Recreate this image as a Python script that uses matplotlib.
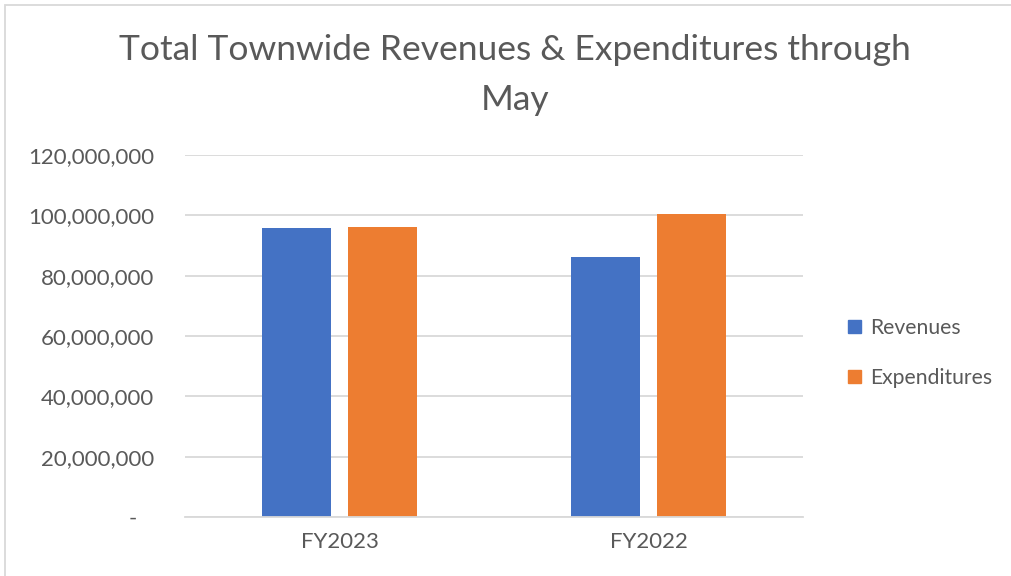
import matplotlib.pyplot as plt
import matplotlib.ticker as mticker
from matplotlib.patches import Rectangle, Patch
import numpy as np

categories = ['FY2023', 'FY2022']
revenues = [95.7e6, 86.2e6]
expenditures = [96.0e6, 100.3e6]
series_names = ['Revenues', 'Expenditures']

blue = '#4472c4'
orange = '#ed7d31'
text_col = '#595959'
grid_col = '#d9d9d9'

plt.rcParams['font.family'] = ['Lato', 'DejaVu Sans']

fig = plt.figure(figsize=(10.11, 5.76), dpi=100)
W, H = 1011, 576
ax = fig.add_axes([185 / W, 1 - 517 / H, 618 / W, 362 / H])

x = np.arange(len(categories))
w = 0.223
off = 0.1405
ax.bar(x - off, revenues, w, color=blue)
ax.bar(x + off, expenditures, w, color=orange)

ax.set_xlim(-0.5, 1.5)
ax.set_ylim(0, 120e6)
ax.set_yticks(np.arange(0, 120e6 + 1, 20e6))


def fmt(v, pos):
    if v == 0:
        return '-   '
    return f'{v:,.0f}'


ax.yaxis.set_major_formatter(mticker.FuncFormatter(fmt))
ax.set_xticks(x)
ax.set_xticklabels(categories)
ax.tick_params(axis='both', length=0, labelsize=16, colors=text_col)
ax.tick_params(axis='y', pad=22)
ax.tick_params(axis='x', pad=11)
ax.grid(axis='y', color=grid_col, linewidth=1.3)
ax.set_axisbelow(True)
for s in ['top', 'right', 'left']:
    ax.spines[s].set_visible(False)
ax.spines['bottom'].set_color(grid_col)
ax.spines['bottom'].set_linewidth(1.3)

fig.text(515 / W, 1 - 50 / H, 'Total Townwide Revenues & Expenditures through',
         ha='center', va='center', fontsize=25.5, color=text_col)
fig.text(515 / W, 1 - 100 / H, 'May',
         ha='center', va='center', fontsize=25.5, color=text_col)

handles = [Patch(color=blue), Patch(color=orange)]
fig.legend(handles, series_names, loc='center left',
           bbox_to_anchor=(829 / W, 1 - 353 / H), frameon=False,
           fontsize=15.2, labelcolor=text_col, handlelength=0.6,
           handleheight=0.6, handletextpad=0.45, labelspacing=1.4)

fig.add_artist(Rectangle((5 / W, -0.01), 1.2, 1 - 5 / H + 0.01,
                         transform=fig.transFigure, fill=False,
                         edgecolor='#d9d9d9', linewidth=1.3))

fig.savefig('out.png', dpi=100)
